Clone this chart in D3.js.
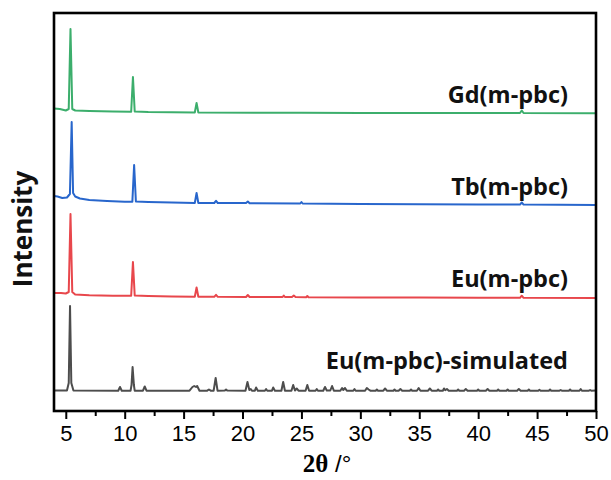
<!DOCTYPE html>
<html><head><meta charset="utf-8">
<script src="https://cdn.jsdelivr.net/npm/d3@7/dist/d3.min.js"></script>
<style>
html,body{margin:0;padding:0;background:#fff;}
svg{display:block;}
</style></head>
<body>
<svg id="chart" width="611" height="480"></svg>
<script>
// ---- data (2θ in degrees, intensity in a.u. relative to each trace's baseline) ----
const seriesNames = ["Eu(m-pbc)-simulated", "Eu(m-pbc)", "Tb(m-pbc)", "Gd(m-pbc)"];
const seriesOffsets = [20, 115, 209, 299];
const majorTicks = [5, 10, 15, 20, 25, 30, 35, 40, 45, 50];
const minorTicks = [7.5, 12.5, 17.5, 22.5, 27.5, 32.5, 37.5, 42.5, 47.5];

const simData = [
 [4.0,0.5],[5.1,0.5],[5.25,8],[5.36,85],[5.47,8],[5.65,0.5],
 [9.45,0.3],[9.6,4],[9.75,0.3],
 [10.5,0.3],[10.58,6],[10.67,24],[10.78,6],[10.85,0.3],
 [11.55,0.3],[11.7,4.5],[11.85,0.3],
 [15.5,0.3],[15.75,4],[15.9,5],[16.05,4],[16.15,5],[16.35,0.3],
 [17.0,0.3],[17.15,1.5],[17.3,0.3],
 [17.55,0.3],[17.72,13],[17.88,0.3],
 [18.5,0.5],[18.6,1.5],[18.7,0.4],
 [20.25,0.3],[20.42,9],[20.58,1],[20.7,2],[20.8,0.3],
 [21.05,0.3],[21.15,3.5],[21.3,0.3],
 [21.9,0.3],[22.0,2],[22.1,0.3],
 [22.5,0.3],[22.6,3.5],[22.75,0.3],
 [23.3,0.3],[23.45,9],[23.6,0.3],
 [24.15,0.3],[24.3,6],[24.45,0.5],[24.6,2.5],[24.75,0.3],
 [25.35,0.3],[25.5,6],[25.65,0.3],
 [26.2,0.3],[26.3,2],[26.4,0.3],
 [26.85,0.3],[27.0,4],[27.15,0.5],[27.45,0.5],[27.6,5],[27.75,0.3],
 [28.3,0.3],[28.45,3],[28.55,1],[28.7,3],[28.85,0.3],
 [29.4,0.3],[29.5,2],[29.6,0.3],
 [30.4,0.3],[30.55,3],[30.7,1.5],[30.85,0.3],
 [31.3,0.3],[31.4,1.5],[31.5,0.3],
 [31.95,0.3],[32.1,2.5],[32.25,0.3],
 [32.8,0.3],[32.9,1.5],[33.0,0.3],
 [33.25,0.3],[33.4,2],[33.55,0.3],
 [34.2,0.3],[34.3,1.5],[34.4,0.3],
 [34.8,0.3],[34.95,3],[35.1,0.3],
 [35.75,0.3],[35.9,2.5],[36.05,0.3],
 [36.5,0.3],[36.6,1.5],[36.7,0.3],
 [37.0,0.3],[37.1,2.5],[37.2,0.8],[37.35,2],[37.5,0.3],
 [38.2,0.3],[38.3,1.5],[38.4,0.3],
 [38.8,0.3],[38.95,2],[39.1,0.3],
 [39.9,0.3],[40.0,1.5],[40.1,0.3],
 [40.65,0.3],[40.8,2],[40.95,0.3],
 [41.6,0.3],[41.7,1.5],[41.8,0.3],
 [42.4,0.3],[42.5,1.5],[42.6,0.3],
 [43.3,0.3],[43.45,2],[43.6,0.3],
 [44.2,0.3],[44.3,1.5],[44.4,0.3],
 [45.1,0.3],[45.2,1.2],[45.3,0.3],
 [46.0,0.3],[46.1,1.5],[46.2,0.3],
 [46.9,0.3],[47.0,1],[47.1,0.3],
 [47.7,0.3],[47.8,1.5],[47.9,0.3],
 [48.6,0.3],[48.7,2],[48.8,0.3],
 [49.4,0.3],[49.5,1],[49.6,0.3],[50,0.5]
];

const euData = [
 [4.0,3],[4.6,3],[5.0,2.5],[5.25,4],[5.4,82],[5.55,4],[5.8,1.5],[7,0.8],[9,0.3],
 [10.55,0.2],[10.7,34],[10.85,0.5],
 [12,0],[14,-0.5],[15.95,-0.8],[16.1,8.5],[16.25,-0.8],
 [17.6,-0.8],[17.75,1.2],[17.9,-0.8],
 [20.3,-1],[20.45,1],[20.6,-1],
 [23.4,-1],[23.5,0.5],[23.6,-1],
 [24.2,-1],[24.35,0.5],[24.5,-1],
 [25.4,-1.2],[25.5,0],[25.6,-1.2],
 [30,-1.5],[35,-1.6],[40,-1.8],
 [43.55,-1.8],[43.7,0.3],[43.85,-1.8],
 [50,-2]
];

const tbData = [
 [4.0,6],[4.3,5.5],[4.7,4],[5.1,4.5],[5.35,8],[5.5,80],[5.62,9],[5.8,5.5],[6.2,3.5],[7.0,2],[8.5,1],[10.0,0.3],
 [10.65,0.3],[10.8,37],[10.95,0.5],
 [12,0],[14,-0.5],[15.95,-1],[16.1,9],[16.25,-1],
 [17.6,-1],[17.75,1.2],[17.9,-1],
 [20.3,-1],[20.45,0.5],[20.6,-1.2],
 [24.9,-1.5],[25.0,0],[25.1,-1.5],
 [30,-2],[35,-2.3],[40,-2.5],
 [43.55,-2.6],[43.7,-0.5],[43.85,-2.6],
 [50,-3]
];

const gdData = [
 [4.0,3.5],[4.5,3],[5.0,1.5],[5.25,3],[5.4,83],[5.55,3],[5.8,1.5],[7,1],[9,0.5],
 [10.55,0.3],[10.7,35],[10.85,0.5],
 [12,0],[14,-0.3],[15.95,-0.5],[16.1,9],[16.25,-0.5],
 [25,-0.8],[30,-1],[35,-1],[40,-1],
 [43.55,-1],[43.7,1.5],[43.85,-1],
 [50,-1.2]
];

const seriesData = [simData, euData, tbData, gdData];

// ---- styles / layout ----
const colors = ["#4d4d4d", "#e8474c", "#2866cc", "#3cae6c"];
const labelBaselines = [369, 287, 195, 103];

const plot = {left: 54, right: 596, top: 13, bottom: 411};

const svg = d3.select("#chart");
const x = d3.scaleLinear().domain([4, 50]).range([plot.left, plot.right]);
const y = d3.scaleLinear().domain([0, 398]).range([plot.bottom, plot.top]);

svg.append("defs").append("clipPath").attr("id","clip")
  .append("rect").attr("x",plot.left).attr("y",plot.top)
  .attr("width",plot.right-plot.left).attr("height",plot.bottom-plot.top);

const g = svg.append("g").attr("clip-path","url(#clip)");
seriesData.forEach((data, i) => {
  const off = seriesOffsets[i];
  g.append("path")
    .datum(data)
    .attr("fill","none")
    .attr("stroke", colors[i])
    .attr("stroke-width", 2)
    .attr("stroke-linejoin","round")
    .attr("d", d3.line().x(d => x(d[0])).y(d => y(d[1] + off)));
});

// series labels
seriesNames.forEach((name, i) => {
  svg.append("text")
    .attr("x", 568)
    .attr("y", labelBaselines[i])
    .attr("text-anchor","end")
    .attr("font-family","'Open Sans', sans-serif")
    .attr("font-weight","bold")
    .attr("font-size", 23.5)
    .attr("fill","#111")
    .text(name);
});

// x axis: major + minor ticks
const axMajor = svg.append("g").attr("transform",`translate(0,${plot.bottom})`)
  .call(d3.axisBottom(x).tickValues(majorTicks).tickSize(8).tickPadding(6).tickFormat(d3.format("d")));
axMajor.select(".domain").remove();
axMajor.selectAll(".tick line").attr("stroke","#000").attr("stroke-width",2);
axMajor.selectAll(".tick text")
  .attr("font-family","'Liberation Sans', Arial, sans-serif")
  .attr("font-size", 22).attr("fill","#000");

const axMinor = svg.append("g").attr("transform",`translate(0,${plot.bottom})`)
  .call(d3.axisBottom(x).tickValues(minorTicks).tickSize(5).tickFormat(""));
axMinor.select(".domain").remove();
axMinor.selectAll(".tick line").attr("stroke","#000").attr("stroke-width",2);

// frame
svg.append("rect")
  .attr("x", plot.left).attr("y", plot.top)
  .attr("width", plot.right-plot.left).attr("height", plot.bottom-plot.top)
  .attr("fill","none").attr("stroke","#000").attr("stroke-width",2.6);

// axis titles
const xt = svg.append("text")
  .attr("x", 327).attr("y", 472)
  .attr("text-anchor","middle")
  .attr("font-size", 25).attr("fill","#000");
xt.append("tspan").attr("font-family","'Liberation Serif', 'Times New Roman', serif").attr("font-weight","bold").text("2θ");
xt.append("tspan").attr("font-family","'Liberation Sans', Arial, sans-serif").attr("font-size",24).text(" /°");

svg.append("text")
  .attr("transform","translate(32,229) rotate(-90)")
  .attr("text-anchor","middle")
  .attr("font-family","'Open Sans', sans-serif")
  .attr("font-weight","bold")
  .attr("font-size", 26).attr("fill","#111")
  .text("Intensity");
</script>
</body></html>
